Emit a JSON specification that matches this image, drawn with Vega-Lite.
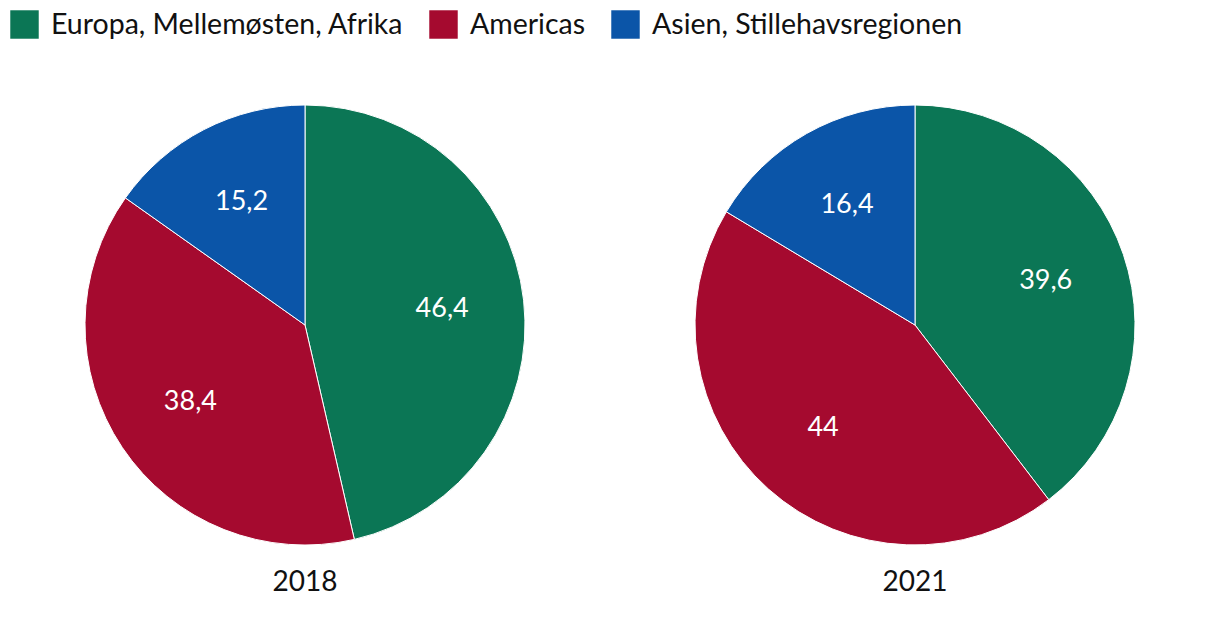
{
  "$schema": "https://vega.github.io/schema/vega-lite/v6.json",
  "padding": {"left": 10, "top": 10, "right": 0, "bottom": 0},
  "background": "white",
  "data": {
    "values": [
      {"year": "2018", "region": "Europa, Mellemøsten, Afrika", "value": 46.4, "order": 1},
      {"year": "2018", "region": "Americas", "value": 38.4, "order": 2},
      {"year": "2018", "region": "Asien, Stillehavsregionen", "value": 15.2, "order": 3},
      {"year": "2021", "region": "Europa, Mellemøsten, Afrika", "value": 39.6, "order": 1},
      {"year": "2021", "region": "Americas", "value": 44, "order": 2},
      {"year": "2021", "region": "Asien, Stillehavsregionen", "value": 16.4, "order": 3}
    ]
  },
  "facet": {
    "column": {
      "field": "year",
      "type": "nominal",
      "header": {
        "title": null,
        "labelOrient": "bottom",
        "labelFont": "Lato",
        "labelFontSize": 28,
        "labelColor": "#111",
        "labelPadding": 22
      }
    }
  },
  "spacing": 166,
  "spec": {
    "width": 440,
    "height": 440,
    "encoding": {
      "theta": {"field": "value", "type": "quantitative", "stack": true},
      "order": {"field": "order", "type": "quantitative"},
      "color": {
        "field": "region",
        "type": "nominal",
        "sort": ["Europa, Mellemøsten, Afrika", "Americas", "Asien, Stillehavsregionen"],
        "scale": {
          "domain": ["Europa, Mellemøsten, Afrika", "Americas", "Asien, Stillehavsregionen"],
          "range": ["#0b7655", "#a50a2f", "#0b55a8"]
        },
        "legend": {
          "title": null,
          "orient": "none",
          "direction": "horizontal",
          "legendX": -75,
          "legendY": -95,
          "symbolType": "square",
          "symbolSize": 810,
          "symbolStrokeWidth": 0,
          "symbolOpacity": 1,
          "labelFont": "Lato",
          "labelFontSize": 28.5,
          "labelColor": "#111",
          "labelOffset": 12,
          "columnPadding": 25,
          "labelLimit": 500
        }
      }
    },
    "layer": [
      {
        "mark": {"type": "arc", "outerRadius": 220, "stroke": "white", "strokeWidth": 1}
      },
      {
        "mark": {"type": "text", "radius": 138, "font": "Lato", "fontSize": 27, "fill": "white", "baseline": "middle", "align": "center"},
        "encoding": {
          "text": {"field": "value", "type": "quantitative", "format": "~g"},
          "color": {"value": "white"}
        }
      }
    ]
  },
  "config": {
    "view": {"stroke": null},
    "locale": {"number": {"decimal": ",", "thousands": ".", "grouping": [3], "currency": ["", " kr"]}}
  }
}
